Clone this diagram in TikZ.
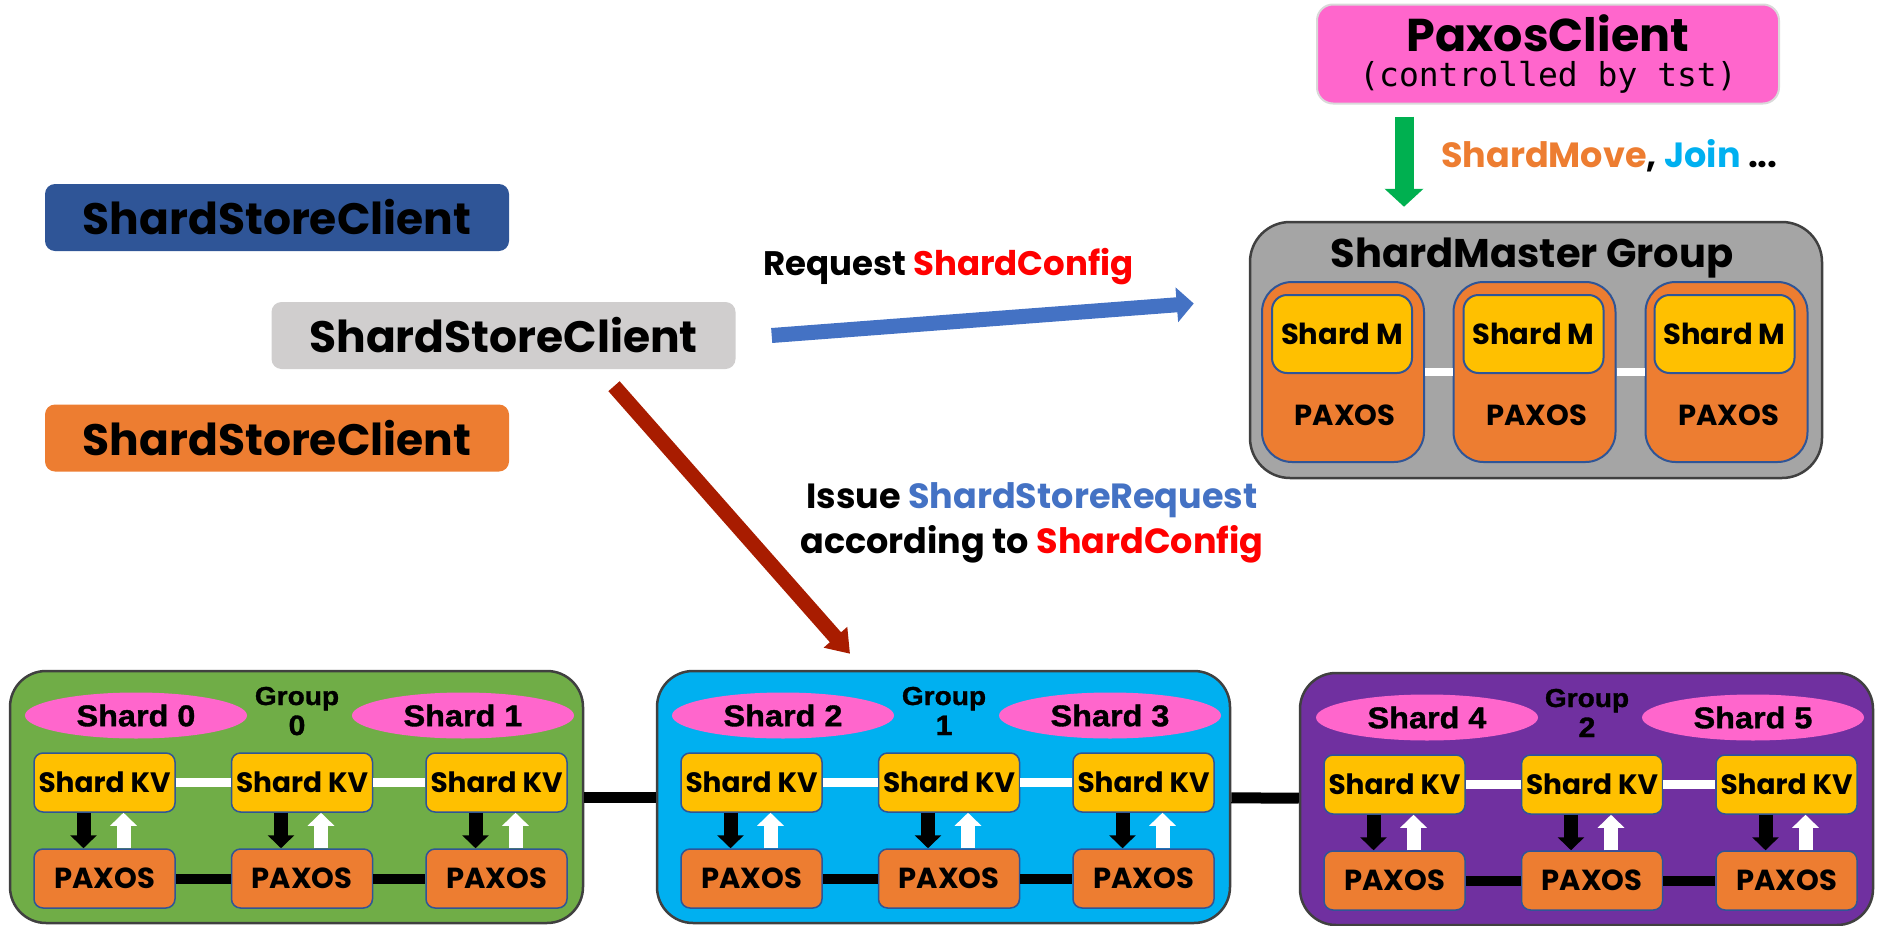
\documentclass[tikz,border=0pt]{standalone}
\usepackage{fontspec}
\usetikzlibrary{arrows.meta,shapes.geometric}
\newfontfamily\futura{Poppins}
\newfontfamily\arialb{Liberation Sans Bold}[FakeStretch=1.08, FakeBold=1.2]
\newfontfamily\monof{DejaVu Sans Mono}

\begin{document}
\begin{tikzpicture}[x=1pt,y=1pt,yscale=-1,xscale=1,
  clientbox/.style={rounded corners=10, minimum width=464, minimum height=67, inner sep=0, font=\futura\bfseries\fontsize{44}{44}\selectfont},
  paxbox/.style={draw={rgb, 255:red, 217; green, 217; blue, 217}, line width=2, fill={rgb, 255:red, 255; green, 102; blue, 204}, rounded corners=16, minimum width=462, minimum height=99, inner sep=0, align=center, font=\fontsize{30}{35}\selectfont},
  mastergrp/.style={draw={rgb, 255:red, 64; green, 64; blue, 64}, line width=2.5, fill={rgb, 255:red, 165; green, 165; blue, 165}, rounded corners=40, minimum width=572, minimum height=256, inner sep=0},
  mpaxos/.style={draw={rgb, 255:red, 47; green, 85; blue, 151}, line width=2, fill={rgb, 255:red, 237; green, 125; blue, 49}, rounded corners=30, minimum width=162, minimum height=180, inner sep=0},
  mshard/.style={draw={rgb, 255:red, 47; green, 85; blue, 151}, line width=2, fill={rgb, 255:red, 255; green, 192; blue, 0}, rounded corners=15, minimum width=140, minimum height=78, inner sep=0, font=\futura\bfseries\fontsize{29}{29}\selectfont},
  grpbox/.style={draw={rgb, 255:red, 64; green, 64; blue, 64}, line width=2.5, rounded corners=36, minimum width=573, minimum height=252, inner sep=0},
  shardell/.style={ellipse, fill={rgb, 255:red, 255; green, 102; blue, 204}, minimum width=222, minimum height=46, inner sep=0, font=\arialb\fontsize{30}{30}\selectfont},
  grplbl/.style={anchor=base, inner sep=0, font=\arialb\fontsize{26}{26}\selectfont},
  grpnum/.style={anchor=base, inner sep=0, font=\arialb\fontsize{28}{28}\selectfont},
  kvbox/.style={draw={rgb, 255:red, 47; green, 85; blue, 151}, line width=1.5, fill={rgb, 255:red, 255; green, 192; blue, 0}, rounded corners=9, minimum width=141, minimum height=59, inner sep=0, font=\futura\bfseries\fontsize{28}{28}\selectfont},
  pxbox/.style={kvbox, fill={rgb, 255:red, 237; green, 125; blue, 49}, font=\futura\bfseries\fontsize{29}{29}\selectfont},
  kvdown/.style={line width=14, black, -{Triangle[width=26pt,length=13pt]}},
  kvup/.style={kvdown, white},
  kvlink/.style={line width=9, white},
  pxlink/.style={line width=10, black},
  grplink/.style={line width=11, black},
  txt/.style={inner sep=0, font=\futura\bfseries\fontsize{#1}{#1}\selectfont}
]
\useasboundingbox (0,0) rectangle (1904,926);

%Rounded Rect: clients
\draw (277,217.5) node [clientbox, fill={rgb, 255:red, 47; green, 85; blue, 151}] (cliblue) {ShardStoreClient};
\draw (503.5,335.5) node [clientbox, fill={rgb, 255:red, 208; green, 206; blue, 206}] (cligray) {ShardStoreClient};
\draw (277,438) node [clientbox, fill={rgb, 255:red, 237; green, 125; blue, 49}] (cliorange) {ShardStoreClient};

%Rounded Rect: paxos client
\draw (1548,54) node [paxbox] (paxcli) {{\futura\bfseries\fontsize{46}{35}\selectfont PaxosClient}\\{\monof\fontsize{33}{35}\selectfont (controlled by tst)}};

%Rounded Rect: shard master group
\draw (1536,350) node [mastergrp] (smg) {};
\draw (1532,267) node [txt=40, anchor=base] (smglbl) {ShardMaster Group};
\draw (1343,372) node [mpaxos] (mpa) {};
\draw (1534.5,372) node [mpaxos] (mpb) {};
\draw (1726.5,372) node [mpaxos] (mpc) {};
\draw (1342,334) node [mshard] (msa) {Shard M};
\draw (1533.5,334) node [mshard] (msb) {Shard M};
\draw (1724.5,334) node [mshard] (msc) {Shard M};
\draw (1345,425) node [txt=29, anchor=base] (mpalbl) {PAXOS};
\draw (1536.5,425) node [txt=29, anchor=base] (mpblbl) {PAXOS};
\draw (1728.5,425) node [txt=29, anchor=base] (mpclbl) {PAXOS};
\draw [line width=8, white] (mpa) -- (mpb);
\draw [line width=8, white] (mpb) -- (mpc);

% Text Node
\draw (1441,167) node [txt=35, anchor=base west] (movelbl) {\textcolor[RGB]{237,125,49}{ShardMove}, \textcolor[RGB]{0,176,240}{Join} ...};
% Text Node
\draw (763,275) node [txt=34, anchor=base west] (reqlbl) {Request \textcolor[RGB]{255,0,0}{ShardConfig}};
% Text Node
\draw (1032,523) node [txt=35, align=center, font=\futura\bfseries\fontsize{35}{45}\selectfont] (issuelbl) {Issue \textcolor[RGB]{68,114,196}{ShardStoreRequest}\\according to \textcolor[RGB]{255,0,0}{ShardConfig}};

%Group 0
\draw (296.5,797) node [grpbox, fill={rgb, 255:red, 112; green, 173; blue, 71}] (g0) {};
\draw (136,715.5) node [shardell] (sh0) {Shard 0};
\draw (463,715.5) node [shardell] (sh1) {Shard 1};
\draw (297,705) node [grplbl] (g0lbl) {Group};
\draw (297,735) node [grpnum] (g0num) {0};
\draw (104.5,782.5) node [kvbox] (kv0a) {Shard KV};
\draw (302,782.5) node [kvbox] (kv0b) {Shard KV};
\draw (496.5,782.5) node [kvbox] (kv0c) {Shard KV};
\draw (104.5,878.5) node [pxbox] (px0a) {PAXOS};
\draw (302,878.5) node [pxbox] (px0b) {PAXOS};
\draw (496.5,878.5) node [pxbox] (px0c) {PAXOS};
\draw [kvlink] (kv0a) -- (kv0b);
\draw [kvlink] (kv0b) -- (kv0c);
\draw [pxlink] (px0a) -- (px0b);
\draw [pxlink] (px0b) -- (px0c);
\draw [kvdown] ([xshift=-21pt]kv0a.south) -- ([xshift=-21pt]px0a.north);
\draw [kvup] ([xshift=19pt]px0a.north) -- ([xshift=19pt]kv0a.south);
\draw [kvdown] ([xshift=-21pt]kv0b.south) -- ([xshift=-21pt]px0b.north);
\draw [kvup] ([xshift=19pt]px0b.north) -- ([xshift=19pt]kv0b.south);
\draw [kvdown] ([xshift=-21pt]kv0c.south) -- ([xshift=-21pt]px0c.north);
\draw [kvup] ([xshift=19pt]px0c.north) -- ([xshift=19pt]kv0c.south);

%Group 1
\draw (943.5,797) node [grpbox, fill={rgb, 255:red, 0; green, 176; blue, 240}] (g1) {};
\draw (783,715.5) node [shardell] (sh2) {Shard 2};
\draw (1110,715.5) node [shardell] (sh3) {Shard 3};
\draw (944,705) node [grplbl] (g1lbl) {Group};
\draw (944,735) node [grpnum] (g1num) {1};
\draw (751.5,782.5) node [kvbox] (kv1a) {Shard KV};
\draw (949,782.5) node [kvbox] (kv1b) {Shard KV};
\draw (1143.5,782.5) node [kvbox] (kv1c) {Shard KV};
\draw (751.5,878.5) node [pxbox] (px1a) {PAXOS};
\draw (949,878.5) node [pxbox] (px1b) {PAXOS};
\draw (1143.5,878.5) node [pxbox] (px1c) {PAXOS};
\draw [kvlink] (kv1a) -- (kv1b);
\draw [kvlink] (kv1b) -- (kv1c);
\draw [pxlink] (px1a) -- (px1b);
\draw [pxlink] (px1b) -- (px1c);
\draw [kvdown] ([xshift=-21pt]kv1a.south) -- ([xshift=-21pt]px1a.north);
\draw [kvup] ([xshift=19pt]px1a.north) -- ([xshift=19pt]kv1a.south);
\draw [kvdown] ([xshift=-21pt]kv1b.south) -- ([xshift=-21pt]px1b.north);
\draw [kvup] ([xshift=19pt]px1b.north) -- ([xshift=19pt]kv1b.south);
\draw [kvdown] ([xshift=-21pt]kv1c.south) -- ([xshift=-21pt]px1c.north);
\draw [kvup] ([xshift=19pt]px1c.north) -- ([xshift=19pt]kv1c.south);

%Group 2
\draw (1586.5,799) node [grpbox, fill={rgb, 255:red, 112; green, 48; blue, 160}] (g2) {};
\draw (1427,717.5) node [shardell] (sh4) {Shard 4};
\draw (1753,717.5) node [shardell] (sh5) {Shard 5};
\draw (1587,707) node [grplbl] (g2lbl) {Group};
\draw (1587,737) node [grpnum] (g2num) {2};
\draw (1394.5,784.5) node [kvbox] (kv2a) {Shard KV};
\draw (1592,784.5) node [kvbox] (kv2b) {Shard KV};
\draw (1786.5,784.5) node [kvbox] (kv2c) {Shard KV};
\draw (1394.5,880.5) node [pxbox] (px2a) {PAXOS};
\draw (1592,880.5) node [pxbox] (px2b) {PAXOS};
\draw (1786.5,880.5) node [pxbox] (px2c) {PAXOS};
\draw [kvlink] (kv2a) -- (kv2b);
\draw [kvlink] (kv2b) -- (kv2c);
\draw [pxlink] (px2a) -- (px2b);
\draw [pxlink] (px2b) -- (px2c);
\draw [kvdown] ([xshift=-21pt]kv2a.south) -- ([xshift=-21pt]px2a.north);
\draw [kvup] ([xshift=19pt]px2a.north) -- ([xshift=19pt]kv2a.south);
\draw [kvdown] ([xshift=-21pt]kv2b.south) -- ([xshift=-21pt]px2b.north);
\draw [kvup] ([xshift=19pt]px2b.north) -- ([xshift=19pt]kv2b.south);
\draw [kvdown] ([xshift=-21pt]kv2c.south) -- ([xshift=-21pt]px2c.north);
\draw [kvup] ([xshift=19pt]px2c.north) -- ([xshift=19pt]kv2c.south);

%Links between groups
\draw [grplink] (g0) -- (g1);
\draw [grplink] (g1) -- (g2);

%Block arrows
\draw [line width=19, draw={rgb, 255:red, 0; green, 176; blue, 80}, -{Triangle[width=38pt,length=18pt]}] ([xshift=-144pt,yshift=12pt]paxcli.south) -- ([xshift=-132pt,yshift=-14pt]smg.north);
\draw [line width=15, draw={rgb, 255:red, 68; green, 114; blue, 196}, -{Triangle[width=34pt,length=17pt]}] ([xshift=36pt]cligray.east) -- ([xshift=-55pt,yshift=-46.5pt]smg.west);
\draw [line width=15, draw={rgb, 255:red, 168; green, 28; blue, 0}, -{Triangle[width=30pt,length=22pt]}] ([xshift=110.5pt,yshift=17pt]cligray.south) -- ([xshift=-93.5pt,yshift=-16pt]g1.north);

\end{tikzpicture}
\end{document}
